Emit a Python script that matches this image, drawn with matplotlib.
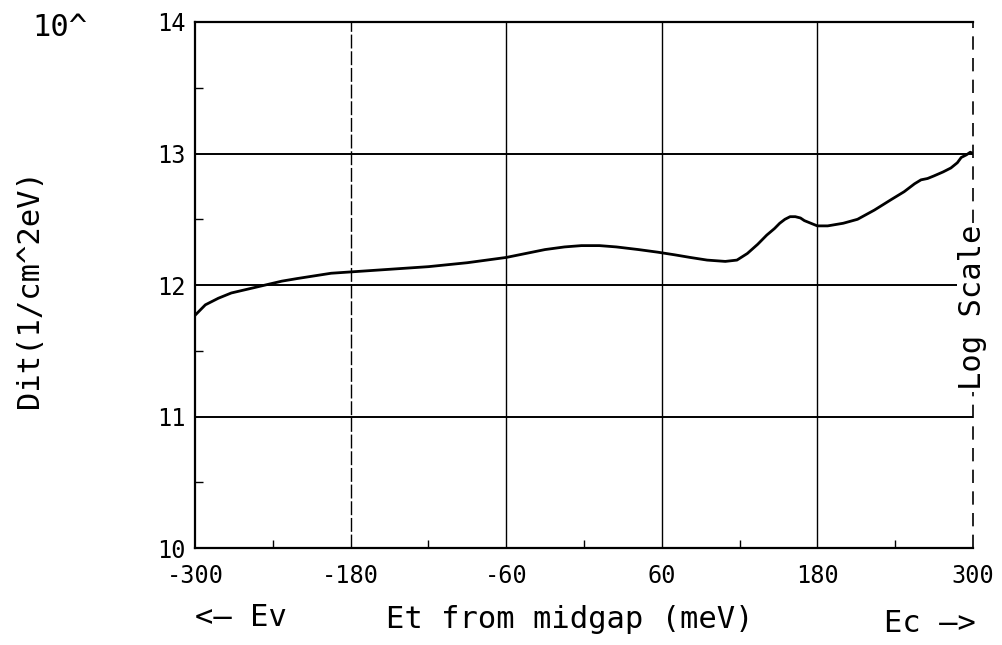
import matplotlib
matplotlib.use("Agg")
import matplotlib.pyplot as plt
from matplotlib.ticker import MultipleLocator

# Dit curve (exponent of 1/cm^2eV vs meV from midgap)
energy = [-300, -292, -282, -272, -259, -246, -233, -221, -208, -195, -180,
          -150, -120, -90, -60, -45, -30, -15, -2, 12, 25, 42, 57, 70, 82,
          95, 109, 118, 126, 134, 141, 147, 151, 155, 159, 163, 167, 170,
          175, 180, 188, 200, 211, 224, 237, 247, 255, 260, 265, 270, 277,
          283, 288, 291, 295, 298, 300]
log_dit = [11.77, 11.85, 11.9, 11.94, 11.97, 12.0, 12.03, 12.05, 12.07,
           12.09, 12.1, 12.12, 12.14, 12.17, 12.21, 12.24, 12.27, 12.29,
           12.3, 12.3, 12.29, 12.27, 12.25, 12.23, 12.21, 12.19, 12.18,
           12.19, 12.24, 12.31, 12.38, 12.43, 12.47, 12.5, 12.52, 12.52,
           12.51, 12.49, 12.47, 12.45, 12.45, 12.47, 12.5, 12.57, 12.65,
           12.71, 12.77, 12.8, 12.81, 12.83, 12.86, 12.89, 12.93, 12.97,
           12.99, 13.01, 13.0]

xticks = [-300, -180, -60, 60, 180, 300]
xtick_labels = ["-300", "-180", "-60", "60", "180", "300"]
yticks = [10, 11, 12, 13, 14]
ygrid = [11, 12, 13]
xgrid = [-180, -60, 60, 180]

plt.rcParams["font.family"] = ["DejaVu Sans Mono"]
FS_TICK = 17
FS_LAB = 22

fig = plt.figure(figsize=(10.03, 6.45), dpi=100)
ax = fig.add_axes([0.1944, 0.150, 0.7756, 0.816])
ax.set_xlim(-300, 300)
ax.set_ylim(10, 14)

for g in ygrid:
    ax.axhline(g, color="black", lw=1.4, zorder=1)
for g in xgrid:
    ax.axvline(g, color="black", lw=1.0, zorder=1,
               ls=(0, (10, 2)) if g == -180 else "-")

ax.plot(energy, log_dit, color="black", lw=2.0, zorder=3)

for s in ["left", "bottom", "top"]:
    ax.spines[s].set_linewidth(1.6)
ax.spines["right"].set_visible(False)
ax.plot([300, 300], [10, 14], color="black", lw=1.2, ls=(0, (8, 5)),
        clip_on=False, zorder=2)

ax.set_xticks(xticks)
ax.set_xticklabels(xtick_labels, fontsize=FS_TICK)
ax.set_yticks(yticks)
ax.set_yticklabels([str(v) for v in yticks], fontsize=FS_TICK)
ax.xaxis.set_minor_locator(MultipleLocator(60))
ax.yaxis.set_minor_locator(MultipleLocator(0.5))
ax.tick_params(which="both", direction="in", top=False, right=False)
ax.tick_params(which="major", length=0, pad=7)
ax.tick_params(axis="x", which="major", pad=11)
ax.tick_params(which="minor", length=6, width=1.0)

ax.text(300, 11.83, "Log Scale", rotation=90, ha="center", va="center",
        fontsize=FS_LAB, zorder=4,
        bbox=dict(facecolor="white", edgecolor="none", pad=1))

fig.text(0.060, 0.958, "10^", ha="center", va="center", fontsize=FS_LAB)
fig.text(0.029, 0.552, "Dit(1/cm^2eV)", rotation=90, ha="center",
         va="center", fontsize=FS_LAB)
fig.text(0.240, 0.043, "<\u2014 Ev", ha="center", va="center",
         fontsize=FS_LAB)
fig.text(0.568, 0.039, "Et from midgap (meV)", ha="center", va="center",
         fontsize=FS_LAB)
fig.text(0.927, 0.033, "Ec \u2014>", ha="center", va="center",
         fontsize=FS_LAB)

fig.savefig("out.png", dpi=100)
